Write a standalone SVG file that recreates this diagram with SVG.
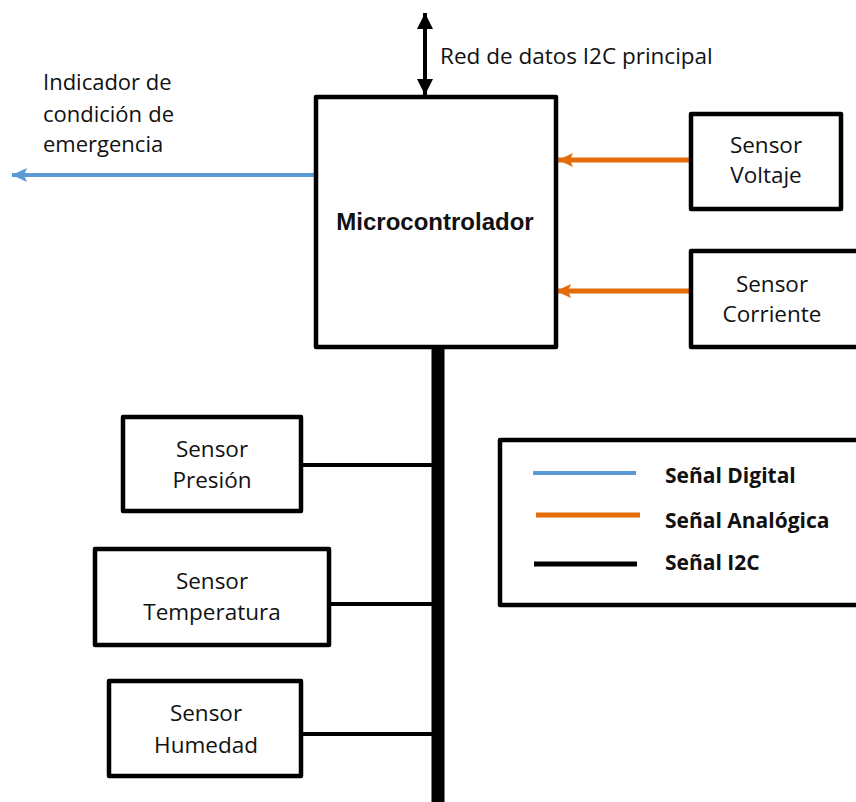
<svg xmlns="http://www.w3.org/2000/svg" width="856" height="802" viewBox="0 0 856 802">
<defs>
<style>
.box{fill:#fff;stroke:#000;stroke-width:4.5;stroke-linejoin:round}
.t{font-family:"Open Sans","Liberation Sans",sans-serif;font-size:22.5px;fill:#111}
.c{text-anchor:middle}
.lg{font-family:"Open Sans","Liberation Sans",sans-serif;font-size:21px;font-weight:bold;fill:#111}
.blue{stroke:#5B9BD5;stroke-width:4;fill:none}
.orange{stroke:#E46C0A;stroke-width:5;fill:none}
.blk{stroke:#000;stroke-width:4;fill:none}
</style>
<marker id="ab" markerUnits="userSpaceOnUse" markerWidth="16" markerHeight="16" refX="15" refY="8" orient="auto"><path d="M0,1 L15,8 L0,15 L3,8 Z" fill="#5B9BD5"/></marker>
<marker id="ao" markerUnits="userSpaceOnUse" markerWidth="16" markerHeight="16" refX="15" refY="8" orient="auto"><path d="M0,1 L15,8 L0,15 L3,8 Z" fill="#E46C0A"/></marker>
<marker id="ak" markerUnits="userSpaceOnUse" markerWidth="18" markerHeight="18" refX="16" refY="9" orient="auto-start-reverse"><path d="M0,1 L16,9 L0,17 Z" fill="#000"/></marker>
</defs>
<rect width="856" height="802" fill="#fff"/>
<g id="connectors">
<line class="blk" x1="425" y1="13" x2="425" y2="95" marker-start="url(#ak)" marker-end="url(#ak)"/>
<line class="blue" x1="316" y1="175" x2="12" y2="175" marker-end="url(#ab)"/>
<line class="orange" x1="689" y1="160" x2="558" y2="160" marker-end="url(#ao)"/>
<line class="orange" x1="689" y1="291" x2="556" y2="291" marker-end="url(#ao)"/>
<line x1="438" y1="348" x2="438" y2="802" stroke="#000" stroke-width="13"/>
<line class="blk" x1="303" y1="465" x2="434" y2="465"/>
<line class="blk" x1="331" y1="604" x2="434" y2="604"/>
<line class="blk" x1="303" y1="734" x2="434" y2="734"/>
</g>
<g id="label-red"><text class="t" x="440" y="64">Red de datos I2C principal</text></g>
<g id="label-indicador"><text class="t" style="font-size:22px"><tspan x="43" y="90">Indicador de</tspan><tspan x="43" y="122">condición</tspan><tspan x="174" y="122" text-anchor="end">de</tspan><tspan x="43" y="152">emergencia</tspan></text></g>
<g id="microcontrolador"><rect class="box" x="316" y="97" width="240" height="250"/><text x="435" y="230" text-anchor="middle" font-family="Liberation Sans, Arial, sans-serif" font-weight="bold" font-size="24" fill="#111">Microcontrolador</text></g>
<g id="sensor-voltaje"><rect class="box" x="691" y="114" width="150" height="95"/><text class="t c" x="766" y="153">Sensor</text><text class="t c" x="766" y="183">Voltaje</text></g>
<g id="sensor-corriente"><rect class="box" x="691" y="251" width="170" height="96"/><text class="t c" x="772" y="292">Sensor</text><text class="t c" x="772" y="322">Corriente</text></g>
<g id="sensor-presion"><rect class="box" x="123" y="417" width="178" height="94"/><text class="t c" x="212" y="457">Sensor</text><text class="t c" x="212" y="488">Presión</text></g>
<g id="sensor-temperatura"><rect class="box" x="95" y="549" width="234" height="96"/><text class="t c" x="212" y="589">Sensor</text><text class="t c" x="212" y="620">Temperatura</text></g>
<g id="sensor-humedad"><rect class="box" x="109" y="681" width="192" height="95"/><text class="t c" x="206" y="721">Sensor</text><text class="t c" x="206" y="753">Humedad</text></g>
<g id="legend"><rect class="box" x="500" y="440" width="370" height="165"/>
<line x1="533" y1="473" x2="636" y2="473" stroke="#5B9BD5" stroke-width="4"/>
<line x1="536" y1="515" x2="640" y2="515" stroke="#E46C0A" stroke-width="5"/>
<line x1="534" y1="564" x2="637" y2="564" stroke="#000" stroke-width="5"/>
<text class="lg" x="665" y="483">Señal Digital</text>
<text class="lg" x="665" y="528">Señal Analógica</text>
<text class="lg" x="665" y="570">Señal I2C</text>
</g>
</svg>
